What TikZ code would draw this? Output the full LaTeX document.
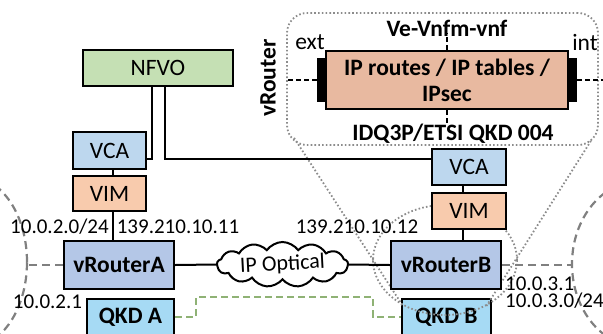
\documentclass[tikz,border=0pt]{standalone}
\usepackage{fontspec}
\setmainfont{Carlito}
\usetikzlibrary{shapes.symbols,shapes.geometric}
\definecolor{nfvoGreen}{HTML}{C5E0B4}
\definecolor{vcaBlue}{HTML}{BDD7EE}
\definecolor{vimPeach}{HTML}{F8CBAD}
\definecolor{routerBlue}{HTML}{B4C7E7}
\definecolor{qkdCyan}{HTML}{A6DAF4}
\definecolor{ipSalmon}{HTML}{E8B9A0}
\definecolor{linkGreen}{HTML}{8FB275}
\definecolor{netGray}{HTML}{808080}
\definecolor{zoomGray}{HTML}{8C8C8C}
\begin{document}
\begin{tikzpicture}[x=1pt,y=-1pt,
  txt/.style={font=\fontsize{21}{17}\selectfont,inner sep=0pt},
  ltxt/.style={font=\fontsize{23.5}{26}\selectfont,inner sep=0pt},
  btxt/.style={font=\fontsize{23.5}{26}\selectfont\bfseries,inner sep=0pt},
  blk/.style={draw,line width=2.4pt,inner sep=0pt},
  wire/.style={line width=2pt},
  iface/.style={line width=1.8pt,dash pattern=on 5pt off 3pt},
  net/.style={draw=netGray,line width=2.2pt,dash pattern=on 8pt off 5pt},
  qlink/.style={draw=linkGreen,line width=2pt,dash pattern=on 7pt off 4pt},
  zoomline/.style={draw=zoomGray,line width=1.8pt,dash pattern=on 1.6pt off 2.2pt}]
\useasboundingbox (0,0) rectangle (603,333);
\clip (0,0) rectangle (603,333);
\node[net,ellipse,minimum width=114,minimum height=170] (netA) at (-30,262) {};
\node[net,ellipse,minimum width=136,minimum height=166] (netB) at (640,264) {};
\node[zoomline,rounded corners=20pt,minimum width=311,minimum height=132] (callout) at (442.5,79) {};
\node[blk,btxt,line width=2pt,fill=ipSalmon,minimum width=242,minimum height=58,align=center] (ipbox) at (447,80) {IP routes / IP tables /\\IPsec};
\node[fill=black,minimum width=8,minimum height=44,inner sep=0pt] (portExt) at (321,80) {};
\node[fill=black,minimum width=8,minimum height=44,inner sep=0pt] (portInt) at (573,80) {};
\draw[iface] (portExt.west) -- (portExt.west -| callout.west);
\draw[iface] (portInt.east) -- ++(30,0);
\draw[iface] (ipbox.north) -- ++(0,-17);
\draw[iface] (ipbox.south) -- ++(0,13);
\node[btxt] (veLabel) at (447,28) {Ve-Vnfm-vnf};
\node[btxt] (qkdLabel) at (453,134) {IDQ3P/ETSI QKD 004};
\node[ltxt] (extLabel) at (310,42) {ext};
\node[ltxt] (intLabel) at (585,42) {int};
\node[btxt,rotate=90] (vrLabel) at (268,78) {vRouter};
\node[blk,ltxt,fill=nfvoGreen,minimum width=150,minimum height=36] (nfvo) at (158,68) {NFVO};
\node[blk,ltxt,fill=vcaBlue,minimum width=73,minimum height=37] (vcaA) at (109.5,150.5) {VCA};
\node[blk,ltxt,fill=vimPeach,minimum width=73,minimum height=35] (vimA) at (109.5,193.5) {VIM};
\node[blk,btxt,fill=routerBlue,minimum width=110,minimum height=48] (rA) at (119,265) {vRouterA};
\node[blk,btxt,fill=qkdCyan,minimum width=87,minimum height=36] (qA) at (130.5,317) {QKD A};
\node[blk,btxt,fill=qkdCyan,minimum width=89,minimum height=36] (qB) at (446.5,317) {QKD B};
\draw[qlink] (qA.east) -| (196,297) -| ([xshift=-28pt]qB.west) -- (qB.west);
\node[zoomline,ellipse,minimum width=144,minimum height=110,inner sep=0pt] (spot) at (445,260) {};
\draw[zoomline] ([shift={(8,-8)}]callout.south west) -- (spot.-133);
\draw[zoomline] ([shift={(-8,-5)}]callout.south east) -- (spot.-48);
\node[blk,ltxt,fill=vcaBlue,minimum width=74,minimum height=36] (vcaB) at (469,167) {VCA};
\node[blk,ltxt,fill=vimPeach,minimum width=74,minimum height=36] (vimB) at (469,211) {VIM};
\node[blk,btxt,fill=routerBlue,minimum width=110,minimum height=48] (rB) at (446,265) {vRouterB};
\node[cloud,draw,line width=2pt,fill=white,cloud puffs=13,cloud puff arc=110,minimum width=131,minimum height=45,inner sep=0pt] (ipNet) at (282.5,264.5) {};
\node[txt,font=\fontsize{22}{26}\selectfont,rotate=3] (ipNetLabel) at (ipNet) {IP Optical};
\coordinate (bus) at (0,159);
\draw[wire] ([xshift=-6pt]nfvo.south) |- (vcaA.east |- bus);
\draw[wire] ([xshift=7pt]nfvo.south) |- (vcaB.west |- bus);
\draw[wire] ([xshift=3.5pt]vcaA.south) -- ([xshift=3.5pt]vimA.north);
\draw[wire] ([xshift=3.5pt]vimA.south) coordinate (vA) -- (vA |- rA.north);
\draw[wire] ([xshift=-6.5pt]vcaB.south) -- ([xshift=-6.5pt]vimB.north);
\draw[wire] ([xshift=-6.5pt]vimB.south) coordinate (vB) -- (vB |- rB.north);
\draw[wire] (rA.east) -- (ipNet.west);
\draw[wire] (ipNet.east) -- (rB.west);
\draw[net] (rA.west) -- (rA.west -| netA.east);
\draw[net] (rB.east) -- (rB.east -| netB.west);
\node[txt] (subA) at (59.5,227) {10.0.2.0/24};
\node[txt] (wanA) at (178,227) {139.210.10.11};
\node[txt] (gwA) at (47.5,302) {10.0.2.1};
\node[txt] (wanB) at (357,227) {139.210.10.12};
\node[txt,anchor=west,align=left] (subB) at (505,292.5) {10.0.3.1\\10.0.3.0/24};
\end{tikzpicture}
\end{document}
